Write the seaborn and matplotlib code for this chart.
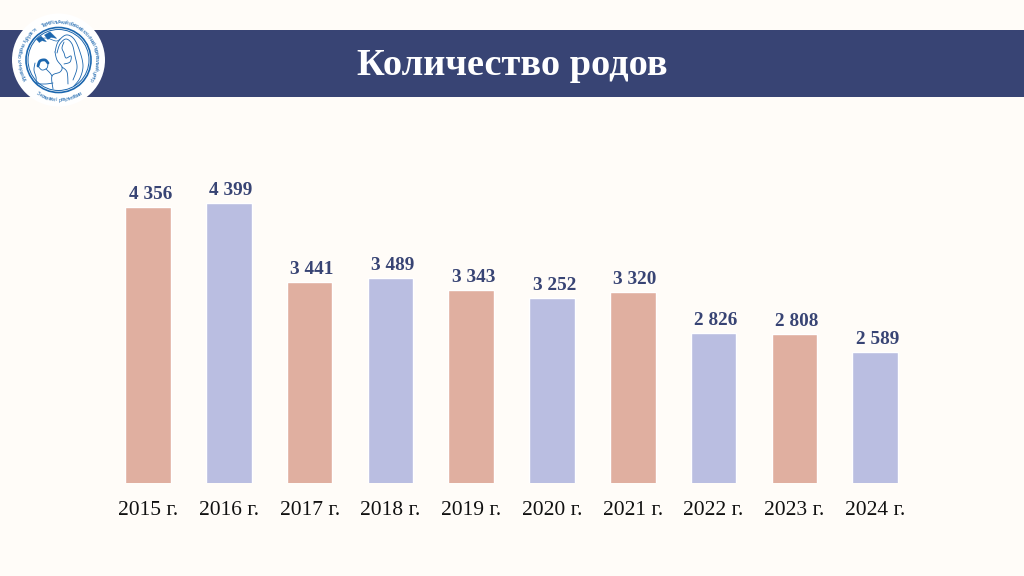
import numpy as np
import pandas as pd
import matplotlib
matplotlib.use("Agg")
import matplotlib.pyplot as plt
from matplotlib.patches import Circle, Rectangle, PathPatch
from matplotlib.path import Path
import seaborn as sns

years = ["2015 г.", "2016 г.", "2017 г.", "2018 г.", "2019 г.", "2020 г.", "2021 г.", "2022 г.", "2023 г.", "2024 г."]
births = [4356, 4399, 3441, 3489, 3343, 3252, 3320, 2826, 2808, 2589]
labels = ["4 356", "4 399", "3 441", "3 489", "3 343", "3 252", "3 320", "2 826", "2 808", "2 589"]
title = "Количество родов"

BG = "#FFFCF8"
NAVY = "#384474"
SALMON = "#E0AFA0"
LILAC = "#BABEE1"
LOGO = "#1B66AE"
W, H = 1024, 576

sns.set_theme(style="white", rc={"font.family": ["Liberation Serif", "DejaVu Serif"]})
fig = plt.figure(figsize=(W / 100, H / 100), dpi=100, facecolor=BG)

# full-figure pixel canvas for the header and logo
bg = fig.add_axes([0, 0, 1, 1], zorder=0)
bg.set_xlim(0, W); bg.set_ylim(H, 0); bg.axis("off")
bg.add_patch(Rectangle((0, 30), W, 66.5, color=NAVY, lw=0))
bg.text(512.5, 65.5, title, color="white", fontsize=27.6, fontweight="bold", ha="center", va="center")

# logo
cx, cy = 58.5, 60
bg.add_patch(Circle((cx, cy), 46.5, color="white", lw=0, zorder=2))
bg.add_patch(Circle((cx, cy), 32.5, fill=False, ec=LOGO, lw=1.2, zorder=3))
bg.add_patch(Circle((cx, cy), 30.5, fill=False, ec=LOGO, lw=0.7, zorder=3))

def stroke(pts, lw=0.6):
    p = np.array([pts[0]] + list(pts) + [pts[-1]], float)
    out = []
    for i in range(1, len(p) - 2):
        for t in np.linspace(0, 1, 12):
            out.append(0.5 * (2 * p[i] + (p[i + 1] - p[i - 1]) * t
                              + (2 * p[i - 1] - 5 * p[i] + 4 * p[i + 1] - p[i + 2]) * t ** 2
                              + (3 * p[i] - p[i - 1] - 3 * p[i + 1] + p[i + 2]) * t ** 3))
    out = np.array(out)
    bg.plot(out[:, 0], out[:, 1], color=LOGO, lw=lw, zorder=4, solid_capstyle="round")

# mother: veil, face, shoulder
stroke([(55, 52), (58, 42), (66, 35), (74, 39), (80, 52), (83, 66), (80, 78), (74, 86)])
stroke([(57, 53), (60, 44), (66, 39), (72, 44), (75, 56), (77, 68), (73, 80)])
stroke([(64, 42), (62, 48), (64, 53), (66, 58), (71, 56), (70, 62), (64, 64)])
stroke([(55, 52), (57, 60), (62, 67), (60, 72), (52, 76), (53, 89)])
stroke([(62, 67), (67, 72), (68, 84)])
# child
stroke([(38, 66), (40, 61), (45, 60), (48, 63)], 2.0)
stroke([(38, 66), (42, 70), (47, 68), (48, 63)])
stroke([(35, 63), (34, 70), (36, 77), (37, 83), (45, 84), (53, 83)])
stroke([(46, 69), (50, 73), (52, 76)])
# birds
for bx, by, s in [(41, 38, 0.9), (50, 34, 1.1)]:
    bg.add_patch(PathPatch(Path([(bx - 5 * s, by + 1), (bx, by - 2 * s), (bx + 6 * s, by + 4 * s), (bx + 1 * s, by + 3 * s), (bx - 2 * s, by + 5 * s), (bx - 5 * s, by + 1)]),
                           fc=LOGO, ec=LOGO, lw=0.3, zorder=4))
stroke([(37, 40), (46, 38), (56, 41), (60, 39)], 0.5)

# ring lettering, one glyph at a time
def ring_text(s, start, end, radius, bottom=False):
    for ch, a in zip(s, np.linspace(start, end, len(s))):
        r = np.deg2rad(a)
        x, y = cx + radius * np.cos(r), cy - radius * np.sin(r)
        bg.text(x, y, ch, fontsize=3.3, color=LOGO, ha="center", va="center",
                family="DejaVu Sans", rotation=a + 90 if bottom else a - 90, zorder=5)

ring_text("Тернопільський обласний клінічний перинатальний центр", 115, -30, 38)
ring_text("Управління охорони здоров'я", 210, 128, 38)
ring_text("З колегами і результатами", 238, 302, 40, bottom=True)

# chart: the value axis of the reference starts at 1000
ax = fig.add_axes([107.6 / W, 1 - 483 / H, 808 / W, 329 / H], zorder=1)
ax.patch.set_alpha(0)
df = pd.DataFrame({"year": years, "births": births})
palette = [SALMON if i % 2 == 0 else LILAC for i in range(len(years))]
sns.barplot(data=df, x="year", y="births", hue="year", palette=palette, legend=False,
            width=0.565, saturation=1, ax=ax)
ax.set_xlim(-0.5, len(years) - 0.5)
ax.set_ylim(1000, 5000)
ax.set_xlabel(""); ax.set_ylabel("")
ax.set_yticks([])
ax.tick_params(axis="x", length=0, pad=12.7, labelsize=15.5, labelcolor="#111111")
sns.despine(ax=ax, left=True, bottom=True)
for i, (v, t) in enumerate(zip(births, labels)):
    ax.annotate(t, (i, v), xytext=(1.6, 3.0), textcoords="offset points", ha="center", va="bottom",
                color=NAVY, fontsize=13.9, fontweight="bold")

fig.savefig("out.png", dpi=100, facecolor=BG)
